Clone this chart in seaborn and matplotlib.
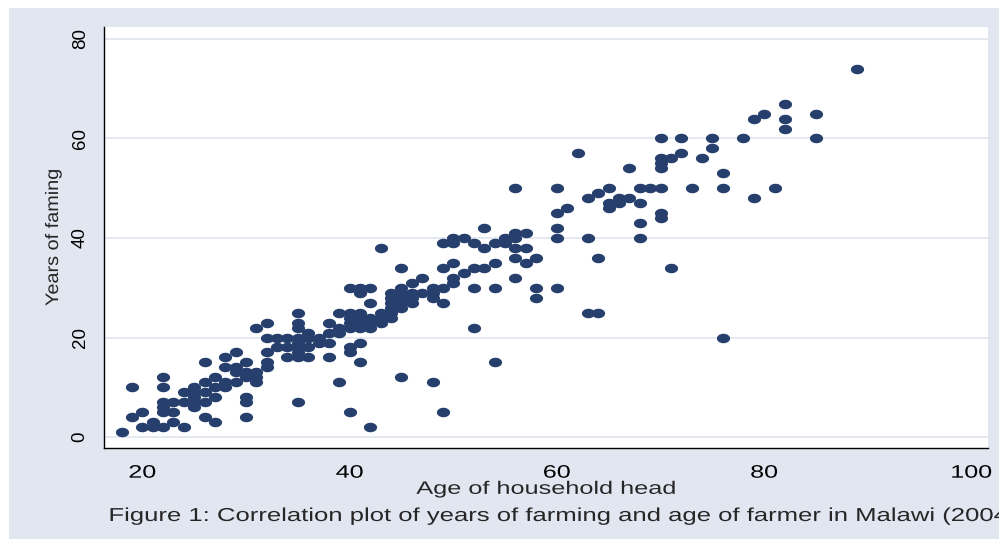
"""Scatter of years of farming vs age of household head (Malawi 2004)."""

import matplotlib
matplotlib.use("Agg")
import matplotlib.pyplot as plt
import numpy as np
import pandas as pd
import seaborn as sns
from matplotlib import patheffects
from matplotlib.path import Path
from matplotlib.patches import Rectangle
from matplotlib.transforms import Affine2D

# Data (one line per age)
age_of_head = [
    18,
    19, 19,
    20, 20,
    21, 21,
    22, 22, 22, 22, 22, 22,
    23, 23, 23,
    24, 24, 24,
    25, 25, 25, 25, 25,
    26, 26, 26, 26, 26,
    27, 27, 27, 27,
    28, 28, 28, 28,
    29, 29, 29, 29,
    30, 30, 30, 30, 30, 30,
    31, 31, 31, 31,
    32, 32, 32, 32, 32,
    33, 33,
    34, 34, 34,
    35, 35, 35, 35, 35, 35, 35, 35, 35,
    36, 36, 36, 36,
    37, 37,
    38, 38, 38, 38,
    39, 39, 39, 39,
    40, 40, 40, 40, 40, 40, 40, 40,
    41, 41, 41, 41, 41, 41, 41, 41,
    42, 42, 42, 42, 42, 42,
    43, 43, 43, 43,
    44, 44, 44, 44, 44, 44,
    45, 45, 45, 45, 45, 45, 45,
    46, 46, 46, 46,
    47, 47,
    48, 48, 48, 48,
    49, 49, 49, 49, 49,
    50, 50, 50, 50, 50,
    51, 51,
    52, 52, 52, 52,
    53, 53, 53,
    54, 54, 54, 54,
    55, 55,
    56, 56, 56, 56, 56, 56,
    57, 57, 57,
    58, 58, 58,
    60, 60, 60, 60, 60,
    61,
    62,
    63, 63, 63,
    64, 64, 64,
    65, 65, 65,
    66, 66,
    67, 67,
    68, 68, 68, 68,
    69,
    70, 70, 70, 70, 70, 70, 70,
    71, 71,
    72, 72,
    73,
    74,
    75, 75,
    76, 76, 76,
    78,
    79, 79,
    80,
    81,
    82, 82, 82,
    85, 85,
    89,
]
years_farming = [
    1,
    10, 4,
    5, 2,
    3, 2,
    12, 10, 7, 6, 5, 2,
    7, 5, 3,
    9, 7, 2,
    10, 9, 8, 7, 6,
    15, 11, 9, 7, 4,
    12, 10, 8, 3,
    16, 14, 11, 10,
    17, 14, 13, 11,
    15, 13, 12, 8, 7, 4,
    22, 13, 12, 11,
    23, 20, 17, 15, 14,
    20, 18,
    20, 18, 16,
    25, 23, 22, 20, 19, 18, 17, 16, 7,
    21, 20, 18, 16,
    20, 19,
    23, 21, 19, 16,
    25, 22, 21, 11,
    30, 25, 24, 23, 22, 18, 17, 5,
    30, 29, 25, 24, 23, 22, 19, 15,
    30, 27, 24, 23, 22, 2,
    38, 25, 24, 23,
    29, 28, 27, 26, 25, 24,
    34, 30, 29, 28, 27, 26, 12,
    31, 29, 28, 27,
    32, 29,
    30, 29, 28, 11,
    39, 34, 30, 27, 5,
    40, 39, 35, 32, 31,
    40, 33,
    39, 34, 30, 22,
    42, 38, 34,
    39, 35, 30, 15,
    40, 39,
    50, 41, 40, 38, 36, 32,
    41, 38, 35,
    36, 30, 28,
    50, 45, 42, 40, 30,
    46,
    57,
    48, 40, 25,
    49, 36, 25,
    50, 47, 46,
    48, 47,
    54, 48,
    50, 47, 43, 40,
    50,
    60, 56, 55, 54, 50, 45, 44,
    56, 34,
    60, 57,
    50,
    56,
    60, 58,
    53, 50, 20,
    60,
    64, 48,
    65,
    50,
    67, 64, 62,
    65, 60,
    74,
]

x_ticks = [20, 40, 60, 80, 100]
y_ticks = [0, 20, 40, 60, 80]

x_label = "Age of household head"
y_label = "Years of faming"
caption = ("Figure 1: Correlation plot of years of farming and age of farmer "
           "in Malawi (2004)")

# Colours
BG = "#E1E6F0"
NAVY = "#263F6D"
GRID = "#E1E6F0"


class WideText(patheffects.AbstractPathEffect):
    """Stretch text glyphs along their baseline (the Stata export renders wide)."""

    def __init__(self, sx, anchor="center"):
        super().__init__()
        self.sx = sx
        self.anchor = anchor

    def draw_path(self, renderer, gc, tpath, affine, rgbFace=None):
        ext = tpath.get_extents()
        pivot = ext.x0 if self.anchor == "left" else (ext.x0 + ext.x1) / 2
        stretch = Affine2D().translate(-pivot, 0).scale(self.sx, 1).translate(pivot, 0)
        renderer.draw_path(gc, tpath, stretch + affine, rgbFace)


df = pd.DataFrame({"age": age_of_head, "years": years_farming})

sns.set_style("white")
plt.rcParams["font.family"] = ["Liberation Sans", "DejaVu Sans"]

fig = plt.figure(figsize=(9.99, 5.39), dpi=100)
fig.patch.set_facecolor("white")
# Stata-like bluish outer panel
fig.add_artist(Rectangle((9 / 999, 0), 1, 1 - 8 / 539, transform=fig.transFigure,
                         facecolor=BG, edgecolor="none", zorder=0))

ax = fig.add_axes([104 / 999, 1 - 448 / 539, 884 / 999, 421 / 539])
ax.set_facecolor("white")

# Horizontal ellipse marker like the stretched Stata dots
theta = np.linspace(0, 2 * np.pi, 60)
ellipse = Path(np.column_stack([np.cos(theta), 0.72 * np.sin(theta)]), closed=True)

sns.scatterplot(data=df, x="age", y="years", marker=ellipse, s=90, color=NAVY,
                linewidth=0, legend=False, ax=ax, zorder=3)

ax.set_xlim(16.3, 101.6)
ax.set_ylim(-2.2, 82.4)
ax.set_xticks(x_ticks)
ax.set_yticks(y_ticks)

ax.set_axisbelow(True)
ax.yaxis.grid(True, color=GRID, linewidth=1.3)
ax.xaxis.grid(False)

for side in ["top", "right"]:
    ax.spines[side].set_visible(False)
for side in ["left", "bottom"]:
    ax.spines[side].set_color("black")
    ax.spines[side].set_linewidth(1.0)

ax.tick_params(axis="both", direction="out", length=7, width=1,
               color="#555555", labelcolor="black")
ax.tick_params(axis="x", pad=5, labelsize=13)
ax.tick_params(axis="y", pad=4, labelsize=13.5)
for lbl in ax.get_yticklabels():
    lbl.set_rotation(90)
    lbl.set_va("center")
for lbl in ax.get_xticklabels():
    lbl.set_path_effects([WideText(1.39)])

ax.set_xlabel(x_label, fontsize=13)
ax.xaxis.set_label_coords(0.5, -0.078)
ax.xaxis.label.set_path_effects([WideText(1.4)])
ax.set_ylabel(y_label, fontsize=13)
ax.yaxis.set_label_coords(-0.0475, 0.5)
ax.yaxis.label.set_path_effects([WideText(1.1)])

fig.text(109 / 999, 1 - 521 / 539, caption, fontsize=13.5, ha="left",
         va="baseline", path_effects=[WideText(1.37, "left")])

fig.savefig("out.png", dpi=100)
